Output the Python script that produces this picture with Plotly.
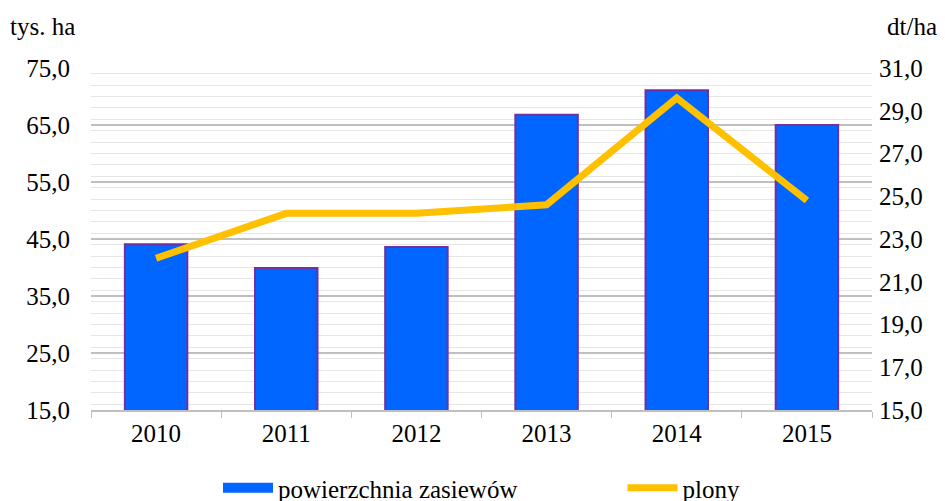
import plotly.graph_objects as go

years = ["2010", "2011", "2012", "2013", "2014", "2015"]
area = [44.1, 39.9, 43.6, 66.8, 71.1, 65.0]
yields = [22.1, 24.2, 24.2, 24.6, 29.6, 24.8]

font = "Times New Roman, serif"
FS = 25

fig = go.Figure()
fig.add_trace(go.Bar(
    x=years, y=area, name="powierzchnia zasiewów",
    marker=dict(color="#0066FF", line=dict(color="#7030A0", width=2)),
    yaxis="y", showlegend=False,
))
# legend proxy for the bar series (wide rectangle symbol)
fig.add_trace(go.Scatter(
    x=[None], y=[None], name="powierzchnia zasiewów" + "\u00a0" * 16, mode="lines",
    line=dict(color="#0066FF", width=14), yaxis="y",
))
fig.add_trace(go.Scatter(
    x=years, y=yields, name="plony", mode="lines",
    line=dict(color="#FFC000", width=7),
    yaxis="y2",
))

# page body has an 8px margin, so the figure is shifted by 8px
fig.update_layout(
    width=937, height=493,
    margin=dict(l=83, r=73, t=60, b=91, autoexpand=False),
    paper_bgcolor="white", plot_bgcolor="white",
    font=dict(family=font, size=FS, color="black"),
    separators=", ",
    bargap=0.52,
    showlegend=True,
    legend=dict(orientation="h", x=0.5, xanchor="center", y=-78 / 342, yanchor="middle",
                font=dict(family=font, size=FS), itemwidth=50, traceorder="normal",
                bgcolor="rgba(0,0,0,0)"),
    xaxis=dict(
        showline=True, linecolor="#BFBFBF", linewidth=1.5,
        ticks="outside", tickson="boundaries", ticklen=6, tickcolor="#BFBFBF",
        showgrid=False, automargin=False, tickfont=dict(family=font, size=FS),
    ),
    yaxis=dict(
        range=[15, 75], dtick=10, tick0=15, tickformat=".1f",
        showgrid=True, gridcolor="#BFBFBF", gridwidth=1.5,
        minor=dict(dtick=2, showgrid=True, gridcolor="#E6E6E6", gridwidth=1),
        zeroline=False, showline=False, ticks="", ticklabelstandoff=20,
        automargin=False, tickfont=dict(family=font, size=FS),
    ),
    yaxis2=dict(
        range=[15, 31], dtick=2, tick0=15, tickformat=".1f",
        overlaying="y", side="right", showgrid=False, zeroline=False,
        showline=False, ticks="", ticklabelstandoff=6,
        automargin=False, tickfont=dict(family=font, size=FS),
    ),
)

fig.layout.annotations = [
    dict(text="tys. ha", xref="paper", yref="paper", x=(0 - 83) / 781, y=1 + 41 / 342,
         xanchor="left", yanchor="middle", showarrow=False,
         font=dict(family=font, size=FS)),
    dict(text="dt/ha", xref="paper", yref="paper", x=1 + 13 / 781, y=1 + 41 / 342,
         xanchor="left", yanchor="middle", showarrow=False,
         font=dict(family=font, size=FS)),
]

fig.write_html("out.html")
